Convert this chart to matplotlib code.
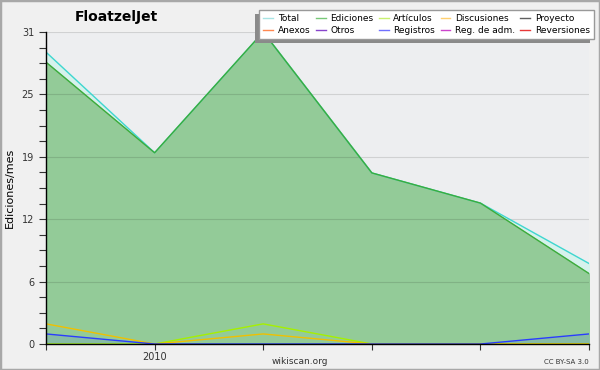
import matplotlib
matplotlib.use("Agg")
import matplotlib.pyplot as plt
from matplotlib.lines import Line2D
from matplotlib.patches import Rectangle
import numpy as np

months = ["2009-12", "2010-01", "2010-02", "2010-03", "2010-04", "2010-05"]
tick_labels = ["", "2010", "", "", "", ""]
total = [29, 19, 31, 17, 14, 8]
ediciones = [28, 19, 31, 17, 14, 7]
articulos = [0, 0, 2, 0, 0, 0]
discusiones = [2, 0, 1, 0, 0, 0]
registros = [1, 0, 0, 0, 0, 1]
ymax = 31

legend_names = ["Total", "Ediciones", "Artículos", "Discusiones", "Proyecto",
                "Anexos", "Otros", "Registros", "Reg. de adm.", "Reversiones"]
legend_colors = ["#a8e4e4", "#78c878", "#c8f070", "#ffd070", "#606060",
                 "#ff8850", "#8844cc", "#7070ff", "#cc44cc", "#e83838"]

plt.rcParams['font.family'] = ['DejaVu Sans']
fig = plt.figure(figsize=(6, 3.7), dpi=100, facecolor="#f0f0f0")
ax = fig.add_axes([46/600, 1-344/370, (589-46)/600, (344-32)/370])
ax.set_facecolor("#edeef0")

x = np.arange(len(months))
ax.fill_between(x, total, color="#d6f2ec", zorder=1)
ax.fill_between(x, ediciones, color="#93cb98", zorder=2)
ax.fill_between(x, registros, color="#3b5cff", alpha=0.13, zorder=3, linewidth=0)
ax.plot(x, total, color="#3fd6d0", lw=1, zorder=4)
ax.plot(x, ediciones, color="#3cac3c", lw=1, zorder=5)
ax.plot(x, articulos, color="#a6f000", lw=1, zorder=6)
ax.plot(x, discusiones, color="#f0c000", lw=1, zorder=7)
ax.plot(x, registros, color="#2a3cff", lw=1, zorder=8)

ax.set_xlim(0, len(months)-1)
ax.set_ylim(0, ymax)
majors = [ymax*i/5 for i in range(6)]
ax.set_yticks(majors)
ax.set_yticklabels([str(int(round(v))) for v in majors])
ax.set_yticks([ymax*i/20 for i in range(21)], minor=True)
ax.set_xticks(x)
ax.set_xticklabels(tick_labels)
ax.tick_params(axis='both', labelsize=7, colors="#333333", direction='out', length=5, width=0.8)
ax.tick_params(axis='y', which='minor', length=5, width=0.8, color="#333333")
ax.tick_params(axis='x', length=4, pad=2)
for s in ["top", "right"]:
    ax.spines[s].set_visible(False)
for s in ["left", "bottom"]:
    ax.spines[s].set_color("black")
    ax.spines[s].set_linewidth(1)
    ax.spines[s].set_zorder(10)
ax.grid(axis='y', which='major', color='black', alpha=0.12, lw=0.8, zorder=9)
ax.set_axisbelow(False)

handles = [Line2D([0], [0], color=c, lw=1) for c in legend_colors]
order = [0, 5, 1, 6, 2, 7, 3, 8, 4, 9]
leg = fig.legend([handles[i] for i in order], [legend_names[i] for i in order],
                 ncol=5, loc='upper right', bbox_to_anchor=(594/600, 1-10/370),
                 fontsize=6.5, handlelength=1.1, handletextpad=0.5, columnspacing=0.6,
                 labelspacing=0.3, borderpad=0.45, borderaxespad=0, fancybox=False, shadow=False,
                 framealpha=1, edgecolor="#999999", facecolor="white")
leg.set_zorder(20)

fig.canvas.draw()
bb = leg.get_window_extent().transformed(fig.transFigure.inverted())
fig.patches.append(Rectangle((bb.x0 - 4/600, bb.y0 - 4/370), bb.width, bb.height,
                             transform=fig.transFigure, facecolor="#8a8a8a",
                             edgecolor="none", zorder=19))

fig.text(116/600, 1-17/370, "FloatzelJet", ha='center', va='center', fontsize=10, fontweight='bold')
fig.text(10/600, 1-188/370, "Ediciones/mes", rotation=90, ha='center', va='center', fontsize=8)
fig.text(300/600, 1-361/370, "wikiscan.org", ha='center', va='center', fontsize=6.5, color="#333333")
fig.text(589/600, 1-362/370, "CC BY-SA 3.0", ha='right', va='center', fontsize=5, color="#333333")
fig.patches.append(Rectangle((0, 0), 1, 1, transform=fig.transFigure, fill=False,
                             edgecolor="#a8a8a8", lw=2.5))

fig.savefig("out.png", dpi=100, facecolor=fig.get_facecolor())
